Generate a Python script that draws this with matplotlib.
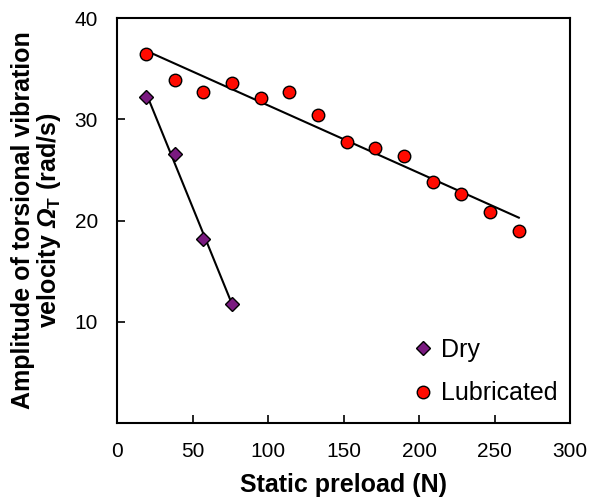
import numpy as np
import matplotlib.pyplot as plt

plt.rcParams['font.family'] = ['Liberation Sans', 'DejaVu Sans']
plt.rcParams['mathtext.fontset'] = 'custom'
plt.rcParams['mathtext.rm'] = 'Liberation Sans:bold'
plt.rcParams['mathtext.sf'] = 'Liberation Sans:bold:italic'

# Dry contact
dry_x = [19, 38, 57, 76]
dry_y = [32.2, 26.6, 18.2, 11.8]

# Lubricated contact
lub_x = [19, 38, 57, 76, 95, 114, 133, 152, 171, 190, 209, 228, 247, 266]
lub_y = [36.4, 33.9, 32.7, 33.6, 32.1, 32.7, 30.4, 27.8, 27.2, 26.4, 23.8, 22.6, 20.8, 19.0]

fig, ax = plt.subplots(figsize=(5.89, 5.0), dpi=100)
fig.subplots_adjust(left=0.199, right=0.968, top=0.964, bottom=0.154)

# linear trend lines
for xs, ys in [(dry_x, dry_y), (lub_x, lub_y)]:
    k, b = np.polyfit(xs, ys, 1)
    xx = np.array([xs[0], xs[-1]])
    ax.plot(xx, k * xx + b, color='black', lw=1.5, zorder=2)

ax.plot(dry_x, dry_y, 'D', ms=7, mfc='#7a1a80', mec='black', mew=1, ls='none', label='Dry', zorder=3)
ax.plot(lub_x, lub_y, 'o', ms=9, mfc='#ff0a00', mec='black', mew=1, ls='none', label='Lubricated', zorder=3)

ax.set_xlim(0, 300)
ax.set_ylim(0, 40)
ax.set_xticks(range(0, 301, 50))
ax.set_yticks([10, 20, 30, 40])
ax.tick_params(direction='in', length=6, width=1.2, labelsize=15, pad=14)
for s in ax.spines.values():
    s.set_linewidth(1.5)

ax.set_xlabel('Static preload (N)', fontsize=18, fontweight='bold', labelpad=8)
ax.set_ylabel('Amplitude of torsional vibration\n' + r'velocity $\mathsf{\Omega}_\mathrm{T}$ (rad/s)',
              fontsize=18, fontweight='bold', labelpad=8, linespacing=1.0)

ax.legend(loc='lower right', bbox_to_anchor=(1.01, 0.0), frameon=False, fontsize=18,
          handletextpad=0.1, labelspacing=0.8, borderaxespad=0.3, handlelength=1.2)

plt.savefig('out.png', dpi=100)
